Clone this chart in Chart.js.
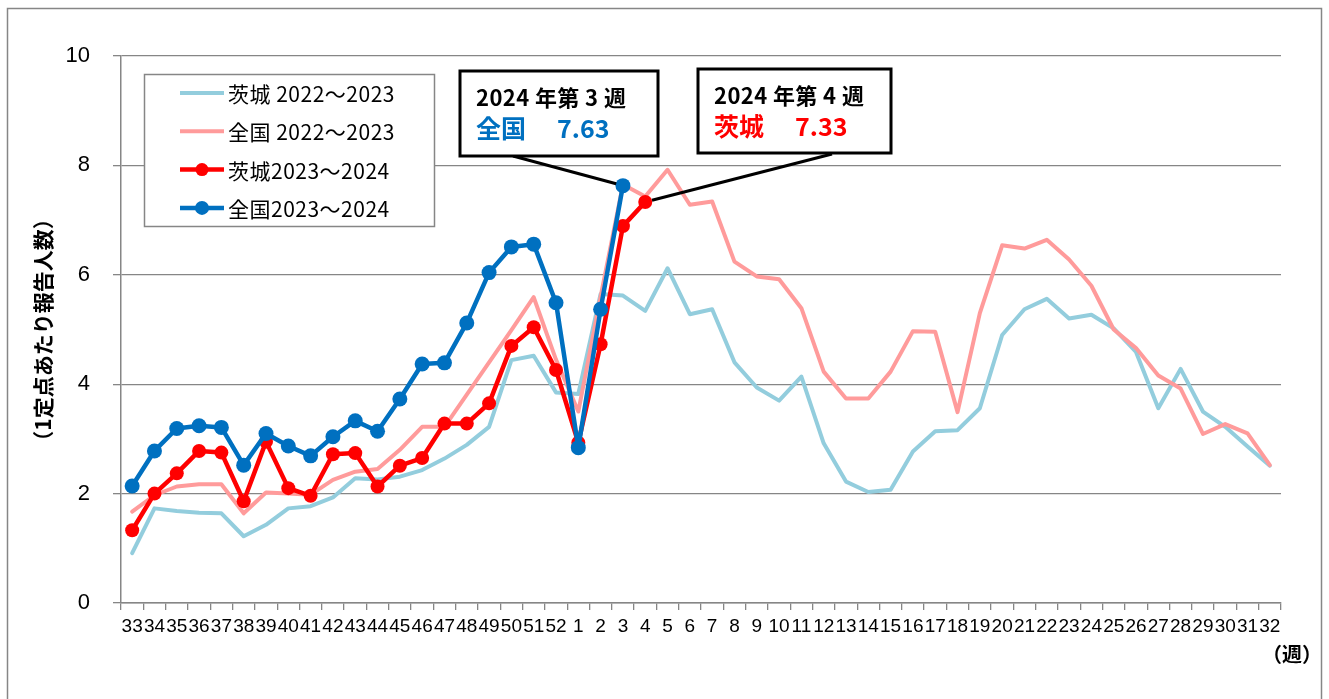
<!DOCTYPE html>
<html><head><meta charset="utf-8">
<script src="https://cdn.jsdelivr.net/npm/chart.js@4"></script>
<style>html,body{margin:0;padding:0;background:#fff}#wrap{width:1329px;height:699px;position:relative}</style>
</head><body><div id="wrap"><canvas id="c" width="1329" height="699"></canvas></div>
<script>
// ---- data ----
const weeks = ['33','34','35','36','37','38','39','40','41','42','43','44','45','46','47','48','49','50','51','52',
  '1','2','3','4','5','6','7','8','9','10','11','12','13','14','15','16','17','18','19','20','21','22','23','24','25','26','27','28','29','30','31','32'];
const yTicks = [0, 2, 4, 6, 8, 10];
const seriesNames = ['茨城 2022～2023', '全国 2022～2023', '茨城2023～2024', '全国2023～2024'];
const ibaraki2223 = [0.91,1.73,1.68,1.65,1.64,1.22,1.43,1.73,1.77,1.93,2.28,2.26,2.31,2.43,2.64,2.89,3.22,4.44,4.52,3.85,
  3.82,5.65,5.62,5.34,6.12,5.28,5.37,4.40,3.94,3.70,4.14,2.92,2.22,2.03,2.07,2.77,3.14,3.16,3.56,4.90,5.37,5.56,5.20,5.27,5.02,4.59,3.56,4.28,3.50,3.22,2.86,2.51];
const zenkoku2223 = [1.67,1.97,2.13,2.17,2.17,1.64,2.02,2.00,1.98,2.25,2.40,2.45,2.80,3.22,3.22,3.81,4.40,4.99,5.59,4.45,
  3.50,5.60,7.65,7.43,7.92,7.28,7.34,6.24,5.97,5.92,5.39,4.23,3.74,3.74,4.23,4.97,4.96,3.49,5.30,6.54,6.48,6.64,6.28,5.80,5.00,4.66,4.16,3.92,3.09,3.27,3.10,2.52];
const ibaraki2324 = [1.33,2.00,2.37,2.78,2.75,1.86,2.95,2.10,1.96,2.72,2.74,2.13,2.51,2.65,3.28,3.28,3.65,4.70,5.04,4.26,
  2.93,4.73,6.89,7.33];
const zenkoku2324 = [2.14,2.78,3.19,3.24,3.21,2.52,3.10,2.87,2.69,3.04,3.33,3.14,3.73,4.37,4.39,5.12,6.04,6.51,6.56,5.49,
  2.84,5.37,7.63];
// callouts: [title, region label, dataset index, week label]
const callouts = [
  ['2024 年第 3 週', '全国', 3, '3'],
  ['2024 年第 4 週', '茨城', 2, '4']
];

const pad = (arr) => weeks.map((_, i) => (i < arr.length ? arr[i] : null));
const GRID = '#868686';
const NUM_FONT = "'Liberation Sans Narrow','Liberation Sans',Arial,sans-serif";
const JP_FONT = "'Noto Sans CJK JP','Noto Sans',sans-serif";

const colors = ['#93CDDD', '#FF9B9B', '#FF0000', '#0070C0'];

const decor = {
  id: 'decor',
  beforeDraw(chart) {
    const c = chart.ctx;
    c.save();
    c.fillStyle = '#fff';
    c.fillRect(0, 0, chart.width, chart.height);
    c.strokeStyle = GRID; c.lineWidth = 1.5;
    c.strokeRect(7.5, 8.5, 1314, 720);
    // y axis title
    c.translate(43, 330);
    c.rotate(-Math.PI / 2);
    c.fillStyle = '#000';
    c.font = "bold 21px " + JP_FONT;
    c.textAlign = 'center'; c.textBaseline = 'middle';
    c.fillText('（1定点あたり報告人数）', 0, 0);
    c.restore();
    c.save();
    c.font = "bold 20px " + JP_FONT;
    c.fillStyle = '#000';
    c.textAlign = 'center'; c.textBaseline = 'middle';
    c.fillText('（週）', 1292, 654);
    c.restore();
  },
  afterDraw(chart) {
    const c = chart.ctx;
    const xs = chart.scales.x, ys = chart.scales.y;
    // legend
    c.save();
    c.fillStyle = '#fff';
    c.fillRect(144, 74, 291, 153);
    c.strokeStyle = GRID; c.lineWidth = 1.5;
    c.strokeRect(144.5, 74.5, 290, 152);
    chart.data.datasets.forEach((ds, i) => {
      const y = 93 + i * 38.3;
      c.strokeStyle = ds.borderColor; c.lineWidth = ds.borderWidth;
      c.beginPath(); c.moveTo(180, y); c.lineTo(224, y); c.stroke();
      if (ds.pointRadius > 0) {
        c.fillStyle = ds.borderColor;
        c.beginPath(); c.arc(202, y, ds.pointRadius - 0.5, 0, Math.PI * 2); c.fill();
      }
      c.fillStyle = '#000';
      c.font = "21px " + JP_FONT;
      c.letterSpacing = '0.5px';
      c.textAlign = 'left'; c.textBaseline = 'middle';
      c.fillText(ds.label, 228, y + 1);
    });
    c.restore();
    // callouts
    const boxes = [
      {x: 460, y: 71, w: 198, h: 85, ax: 513, ay: 156},
      {x: 698, y: 69, w: 193, h: 84, ax: 832, ay: 154}
    ];
    callouts.forEach((co, k) => {
      const b = boxes[k];
      const ds = chart.data.datasets[co[2]];
      const idx = weeks.indexOf(co[3]);
      const px = xs.getPixelForValue(idx), py = ys.getPixelForValue(ds.data[idx]);
      c.save();
      c.strokeStyle = '#000'; c.lineWidth = 3;
      const dx = px - b.ax, dy = py - b.ay, len = Math.hypot(dx, dy);
      const r = 7;
      c.beginPath(); c.moveTo(b.ax, b.ay); c.lineTo(px - dx / len * r, py - dy / len * r); c.stroke();
      c.fillStyle = '#fff';
      c.fillRect(b.x, b.y, b.w, b.h);
      c.strokeRect(b.x, b.y, b.w, b.h);
      c.textAlign = 'left'; c.textBaseline = 'middle';
      c.fillStyle = '#000';
      c.font = "bold 22px " + JP_FONT;
      c.letterSpacing = '0.4px';
      c.fillText(co[0], b.x + 16, b.y + 27);
      c.letterSpacing = '0px';
      c.fillStyle = ds.borderColor;
      c.font = "bold 25px " + JP_FONT;
      c.fillText(co[1], b.x + 16, b.y + 57);
      c.fillText(ds.data[idx].toFixed(2), b.x + 97, b.y + 57);
      c.restore();
    });
  }
};

new Chart(document.getElementById('c'), {
  type: 'line',
  data: {
    labels: weeks,
    datasets: [
      {label: seriesNames[0], data: pad(ibaraki2223), borderColor: colors[0], backgroundColor: colors[0], borderWidth: 4, pointRadius: 0, order: 4},
      {label: seriesNames[1], data: pad(zenkoku2223), borderColor: colors[1], backgroundColor: colors[1], borderWidth: 4, pointRadius: 0, order: 3},
      {label: seriesNames[2], data: pad(ibaraki2324), borderColor: colors[2], backgroundColor: colors[2], borderWidth: 4.5, pointRadius: 7, pointBorderWidth: 0, pointBackgroundColor: colors[2], order: 2},
      {label: seriesNames[3], data: pad(zenkoku2324), borderColor: colors[3], backgroundColor: colors[3], borderWidth: 4.5, pointRadius: 7.5, pointBorderWidth: 0, pointBackgroundColor: colors[3], order: 1}
    ]
  },
  options: {
    responsive: false,
    animation: false,
    devicePixelRatio: 1,
    layout: {padding: {left: 0, top: 56, right: 48, bottom: 0}},
    elements: {line: {tension: 0, borderJoinStyle: 'round', borderCapStyle: 'round'}},
    plugins: {legend: {display: false}, tooltip: {enabled: false}},
    scales: {
      x: {
        offset: true,
        grid: {offset: true, drawOnChartArea: false, drawTicks: true, tickLength: 7, color: GRID, lineWidth: 1.3},
        border: {color: GRID, width: 1.5},
        ticks: {autoSkip: false, maxRotation: 0, minRotation: 0, color: '#000', padding: 5, font: {family: NUM_FONT, size: 19}},
        afterFit(s) { s.height = 96; }
      },
      y: {
        min: 0, max: 10,
        afterBuildTicks(s) { s.ticks = yTicks.map(v => ({value: v})); },
        grid: {color: GRID, lineWidth: 1.3, tickLength: 8},
        border: {color: GRID, width: 1.5},
        ticks: {color: '#000', padding: 23, font: {family: NUM_FONT, size: 22}},
        afterFit(s) { s.width = 121; }
      }
    }
  },
  plugins: [decor]
});
</script>
</body></html>
